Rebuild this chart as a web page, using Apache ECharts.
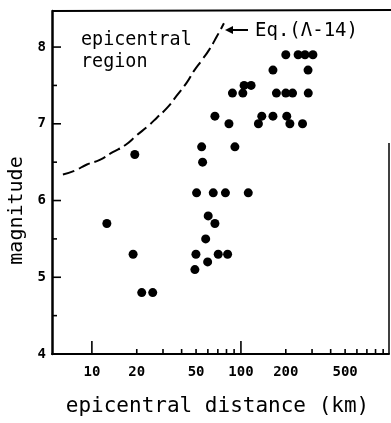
<!DOCTYPE html>
<html>
<head>
<meta charset="utf-8">
<script src="https://cdn.jsdelivr.net/npm/echarts@6/dist/echarts.min.js"></script>
<style>
  html, body { margin: 0; padding: 0; background: #fff; }
  #chart { width: 391px; height: 423px; }
</style>
</head>
<body>
<div id="chart"></div>
<script>
// Events: epicentral distance (km) and magnitude
const distanceKm = [12.6, 18.9, 19.4, 21.6, 25.6, 49.1, 49.9, 50.4, 55.3, 54.5,
  59.8, 58.0, 60.3, 66.9, 65.2, 70.4, 81.4, 78.7, 66.9, 83.1,
  91.1, 112, 87.7, 103, 105, 117, 131, 138, 164, 203,
  213, 259, 173, 200, 222, 283, 164, 282, 200, 242, 269, 304];
const magnitude = [5.7, 5.3, 6.6, 4.8, 4.8, 5.1, 5.3, 6.1, 6.5, 6.7,
  5.2, 5.5, 5.8, 5.7, 6.1, 5.3, 5.3, 6.1, 7.1, 7.0,
  6.7, 6.1, 7.4, 7.4, 7.5, 7.5, 7.0, 7.1, 7.1, 7.1,
  7.0, 7.0, 7.4, 7.4, 7.4, 7.4, 7.7, 7.7, 7.9, 7.9, 7.9, 7.9];

// Boundary of the epicentral region, Eq. (Λ-14)
const curveKm = [6.39, 7.69, 9.26, 11.3, 13.8, 16.7, 20.0, 24.1, 27.3, 32.4,
  37.2, 43.4, 48.4, 54.7, 61.0, 69.0, 76.9];
const curveMag = [6.34, 6.39, 6.47, 6.53, 6.63, 6.72, 6.85, 6.98, 7.08, 7.22,
  7.37, 7.54, 7.69, 7.83, 7.96, 8.14, 8.31];

// Tick marks and labels
const xTickLabels = [10, 20, 50, 100, 200, 500];
const xMajorTicks = [10, 100];
const xMinorTicks = [20, 30, 40, 50, 60, 70, 80, 90, 200, 300, 400, 500, 600, 700, 800, 900];
const yMajorTicks = [5, 6, 7, 8];
const yMinorTicks = [4.5, 5.5, 6.5, 7.5];

const X_MIN = 5.4, X_MAX = 985, Y_MIN = 4, Y_MAX = 8.47;
const GRID = { left: 52, right: 2, top: 11, bottom: 69 };
const MONO = '"DejaVu Sans Mono", "Liberation Mono", monospace';
const INK = '#000';

const zip = (a, b) => a.map((v, i) => [v, b[i]]);

function xTick(len) {
  return function (params, api) {
    const p = api.coord([api.value(0), Y_MIN]);
    return { type: 'line', shape: { x1: p[0], y1: p[1], x2: p[0], y2: p[1] - len },
      style: { stroke: INK, lineWidth: 1.6 } };
  };
}
function yTick(len) {
  return function (params, api) {
    const p = api.coord([X_MIN, api.value(1)]);
    return { type: 'line', shape: { x1: p[0], y1: p[1], x2: p[0] + len, y2: p[1] },
      style: { stroke: INK, lineWidth: 1.6 } };
  };
}

const chart = echarts.init(document.getElementById('chart'), null, { renderer: 'canvas' });
const plotRight = 391 - GRID.right;
const plotBottom = 423 - GRID.bottom;

chart.setOption({
  animation: false,
  backgroundColor: '#fff',
  grid: { left: GRID.left, right: GRID.right, top: GRID.top, bottom: GRID.bottom, containLabel: false },
  xAxis: {
    type: 'log', logBase: 10, min: X_MIN, max: X_MAX,
    axisLine: { show: true, lineStyle: { color: INK, width: 2 } },
    axisTick: { show: false }, axisLabel: { show: false }, splitLine: { show: false }
  },
  yAxis: {
    type: 'value', min: Y_MIN, max: Y_MAX, interval: 1,
    axisLine: { show: true, lineStyle: { color: INK, width: 2.5 } },
    axisTick: { show: false }, splitLine: { show: false },
    axisLabel: {
      show: true, margin: 6, color: INK, fontFamily: MONO, fontWeight: 'bold', fontSize: 14,
      formatter: v => (Number.isInteger(v) ? String(v) : '')
    }
  },
  series: [
    {
      type: 'line', data: zip(curveKm, curveMag), smooth: true, symbol: 'none',
      lineStyle: { color: INK, width: 2, type: [12, 5] }, silent: true
    },
    {
      type: 'scatter', data: zip(distanceKm, magnitude), symbol: 'circle', symbolSize: 9,
      itemStyle: { color: INK, opacity: 1 }
    },
    { type: 'custom', data: xMajorTicks.map(v => [v]), renderItem: xTick(13), clip: false, silent: true },
    { type: 'custom', data: xMinorTicks.map(v => [v]), renderItem: xTick(5), clip: false, silent: true },
    { type: 'custom', data: yMajorTicks.map(v => [X_MIN, v]), renderItem: yTick(9), clip: false, silent: true },
    { type: 'custom', data: yMinorTicks.map(v => [X_MIN, v]), renderItem: yTick(5), clip: false, silent: true },
    {
      type: 'custom', data: xTickLabels.map(v => [v]), clip: false, silent: true,
      renderItem: function (params, api) {
        const p = api.coord([api.value(0), Y_MIN]);
        return { type: 'text', x: p[0], y: p[1] + 18,
          style: { text: String(api.value(0)), font: 'bold 14px ' + MONO, fill: INK,
            align: 'center', verticalAlign: 'middle' } };
      }
    }
  ],
  graphic: [
    // frame: top edge and right edge
    { type: 'line', shape: { x1: GRID.left, y1: GRID.top, x2: 391, y2: GRID.top - 1 },
      style: { stroke: INK, lineWidth: 2 } },
    { type: 'line', shape: { x1: plotRight, y1: 143, x2: plotRight, y2: plotBottom },
      style: { stroke: INK, lineWidth: 1.5 } },
    // arrow pointing at the curve
    { type: 'line', shape: { x1: 229, y1: 30, x2: 248, y2: 30 }, style: { stroke: INK, lineWidth: 2 } },
    { type: 'polygon', shape: { points: [[225, 30], [233, 26], [233, 34]] }, style: { fill: INK } },
    { type: 'text', x: 255, y: 31, style: { text: 'Eq.(Λ-14)', font: '19px ' + MONO, fill: INK,
      align: 'left', verticalAlign: 'middle' } },
    { type: 'text', x: 81, y: 40, scaleX: 0.92, style: { text: 'epicentral', font: '20px ' + MONO, fill: INK,
      align: 'left', verticalAlign: 'middle' } },
    { type: 'text', x: 81, y: 62, scaleX: 0.92, style: { text: 'region', font: '20px ' + MONO, fill: INK,
      align: 'left', verticalAlign: 'middle' } },
    // axis titles
    { type: 'text', x: 217.5, y: 407, style: { text: 'epicentral distance (km)', font: '21px ' + MONO, fill: INK,
      align: 'center', verticalAlign: 'middle' } },
    { type: 'text', x: 17, y: 210.5, rotation: Math.PI / 2, style: { text: 'magnitude', font: '20px ' + MONO, fill: INK,
      align: 'center', verticalAlign: 'middle' } }
  ]
});
</script>
</body>
</html>
